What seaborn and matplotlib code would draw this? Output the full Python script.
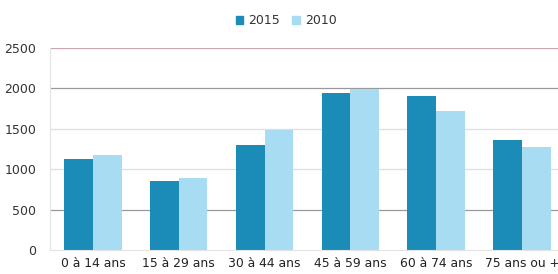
import matplotlib
matplotlib.use("Agg")
import matplotlib.pyplot as plt
import seaborn as sns
import pandas as pd
from matplotlib.patches import Patch

categories = ["0 à 14 ans", "15 à 29 ans", "30 à 44 ans", "45 à 59 ans", "60 à 74 ans", "75 ans ou +"]
values_2015 = [1130, 850, 1295, 1940, 1905, 1358]
values_2010 = [1170, 890, 1490, 1995, 1725, 1270]
series = ["2015", "2010"]
yticks = [0, 500, 1000, 1500, 2000, 2500]

df = pd.DataFrame({
    "cat": categories * 2,
    "val": values_2015 + values_2010,
    "serie": [series[0]] * len(categories) + [series[1]] * len(categories),
})

sns.set_theme(style="white")
plt.rcParams["font.family"] = ["DejaVu Sans"]

fig = plt.figure(figsize=(5.58, 2.74), dpi=100)
ax = fig.add_axes([50 / 558, 24 / 274, 1 - 50 / 558, 202 / 274])

palette = {"2015": "#1b8bb8", "2010": "#a8dcf3"}
sns.barplot(data=df, x="cat", y="val", hue="serie", hue_order=series,
            palette=palette, width=0.67, saturation=1, ax=ax, legend=False,
            linewidth=0)

ax.set_xlim(-0.5, 5.42)
ax.set_ylim(0, 2500)
ax.set_yticks(yticks)
ax.set_yticklabels([str(t) for t in yticks], fontsize=9, color="#333333")
ax.set_xticks(range(len(categories)))
ax.set_xticklabels(categories, fontsize=8.9, color="#222222")
ax.set_xlabel("")
ax.set_ylabel("")
ax.tick_params(axis="y", length=0, pad=10)
ax.tick_params(axis="x", length=0, pad=5)

for t in yticks[1:]:
    col = "#c9a9ae" if t == 2500 else ("#999999" if t in (500, 2000) else "#dddddd")
    ax.axhline(t, color=col, lw=0.9, zorder=0)
ax.set_axisbelow(True)
for s in ["top", "right"]:
    ax.spines[s].set_visible(False)
ax.spines["left"].set_color("#e3e3e3")
ax.spines["left"].set_linewidth(0.8)
ax.spines["bottom"].set_color("#e3e3e3")
ax.spines["bottom"].set_linewidth(0.8)

handles = [Patch(color=palette[s]) for s in series]
fig.legend(handles, series, loc="center", bbox_to_anchor=(286 / 558, 1 - 21 / 274),
           ncol=2, frameon=False, fontsize=9, handlelength=0.6, handleheight=0.6,
           handletextpad=0.4, columnspacing=1.0, labelcolor="#333333")

fig.savefig("out.png", dpi=100)
